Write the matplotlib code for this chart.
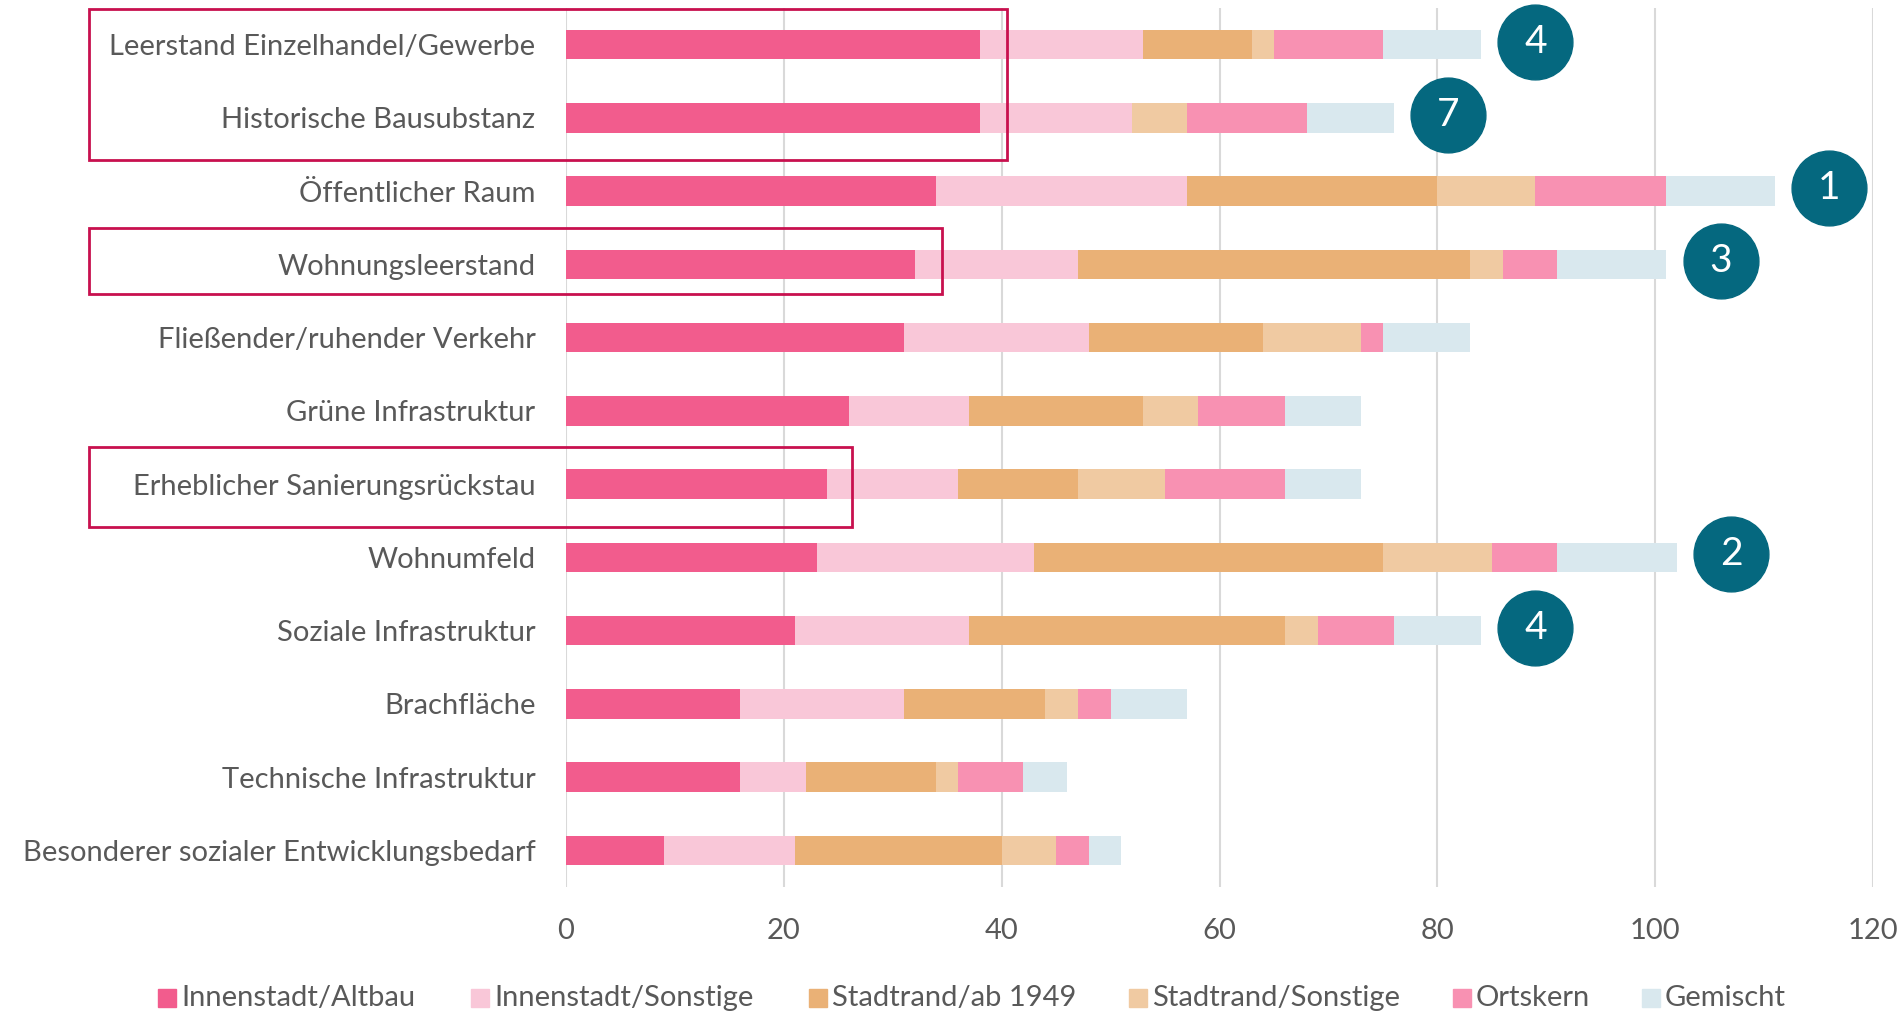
import numpy as np
import matplotlib
matplotlib.use("Agg")
import matplotlib.pyplot as plt
from matplotlib.patches import Rectangle

# ---- Data ----
categories = [
    "Leerstand Einzelhandel/Gewerbe",
    "Historische Bausubstanz",
    "Öffentlicher Raum",
    "Wohnungsleerstand",
    "Fließender/ruhender Verkehr",
    "Grüne Infrastruktur",
    "Erheblicher Sanierungsrückstau",
    "Wohnumfeld",
    "Soziale Infrastruktur",
    "Brachfläche",
    "Technische Infrastruktur",
    "Besonderer sozialer Entwicklungsbedarf",
]
series_names = ["Innenstadt/Altbau", "Innenstadt/Sonstige", "Stadtrand/ab 1949",
                "Stadtrand/Sonstige", "Ortskern", "Gemischt"]
innenstadt_altbau = [38, 38, 34, 32, 31, 26, 24, 23, 21, 16, 16, 9]
innenstadt_sonstige = [15, 14, 23, 15, 17, 11, 12, 20, 16, 15, 6, 12]
stadtrand_ab1949 = [10, 0, 23, 36, 16, 16, 11, 32, 29, 13, 12, 19]
stadtrand_sonstige = [2, 5, 9, 3, 9, 5, 8, 10, 3, 3, 2, 5]
ortskern = [10, 11, 12, 5, 2, 8, 11, 6, 7, 3, 6, 3]
gemischt = [9, 8, 10, 10, 8, 7, 7, 11, 8, 7, 4, 3]
rank_labels = ["4", "7", "1", "3", None, None, None, "2", "4", None, None, None]
x_ticks = [0, 20, 40, 60, 80, 100, 120]

colors = ["#F25C8D", "#F9C7D8", "#EAB176", "#F0CAA2", "#F891B2", "#D9E8EE"]
teal = "#05687F"
box_red = "#C8104E"
text_grey = "#595959"

plt.rcParams["font.family"] = ["Lato", "DejaVu Sans"]

W, H = 1903, 1014
fig = plt.figure(figsize=(W / 100, H / 100), dpi=100)
ax = fig.add_axes([566 / W, 1 - 887 / H, (1873 - 566) / W, (887 - 8) / H])

series = [innenstadt_altbau, innenstadt_sonstige, stadtrand_ab1949,
          stadtrand_sonstige, ortskern, gemischt]
y = np.arange(len(categories))
left = np.zeros(len(categories))
for name, vals, col in zip(series_names, series, colors):
    vals = np.array(vals, dtype=float)
    ax.barh(y, vals, left=left, height=0.405, color=col, edgecolor="none",
            label=name, zorder=3)
    left += vals
totals = left

# ---- rank circles ----
for i, lab in enumerate(rank_labels):
    if lab is None:
        continue
    ax.scatter(totals[i] + 5, i - 0.04, s=2900, color=teal, zorder=4, clip_on=False)
    ax.text(totals[i] + 5, i - 0.04, lab, color="white", fontsize=28,
            ha="center", va="center", zorder=5)

# ---- highlight boxes ----
boxes = [(-43.8, -0.49, 40.5, 1.57), (-43.8, 2.51, 34.5, 3.40), (-43.8, 5.49, 26.3, 6.59)]
for x0, y0, x1, y1 in boxes:
    ax.add_patch(Rectangle((x0, y0), x1 - x0, y1 - y0, fill=False, edgecolor=box_red,
                           linewidth=2.0, clip_on=False, zorder=6))

ax.set_xlim(0, 120)
ax.set_ylim(len(categories) - 0.5, -0.5)
ax.set_xticks(x_ticks)
ax.set_yticks(y)
ax.set_yticklabels(categories)
ax.tick_params(axis="both", length=0, colors=text_grey, labelsize=21)
ax.tick_params(axis="y", pad=22)
ax.tick_params(axis="x", pad=22)
ax.grid(axis="x", color="#D9D9D9", linewidth=1.5, zorder=0)
for s in ax.spines.values():
    s.set_visible(False)

# ---- legend ----
leg_x = [158, 471, 809, 1129, 1453, 1642]
for xp, name, col in zip(leg_x, series_names, colors):
    fig.patches.append(Rectangle((xp / W, 1 - 1007 / H), 18 / W, 18 / H,
                                 transform=fig.transFigure, color=col, figure=fig))
    fig.text((xp + 23) / W, 1 - 998 / H, name, color=text_grey, fontsize=21,
             ha="left", va="center")

fig.savefig("out.png", dpi=100)
